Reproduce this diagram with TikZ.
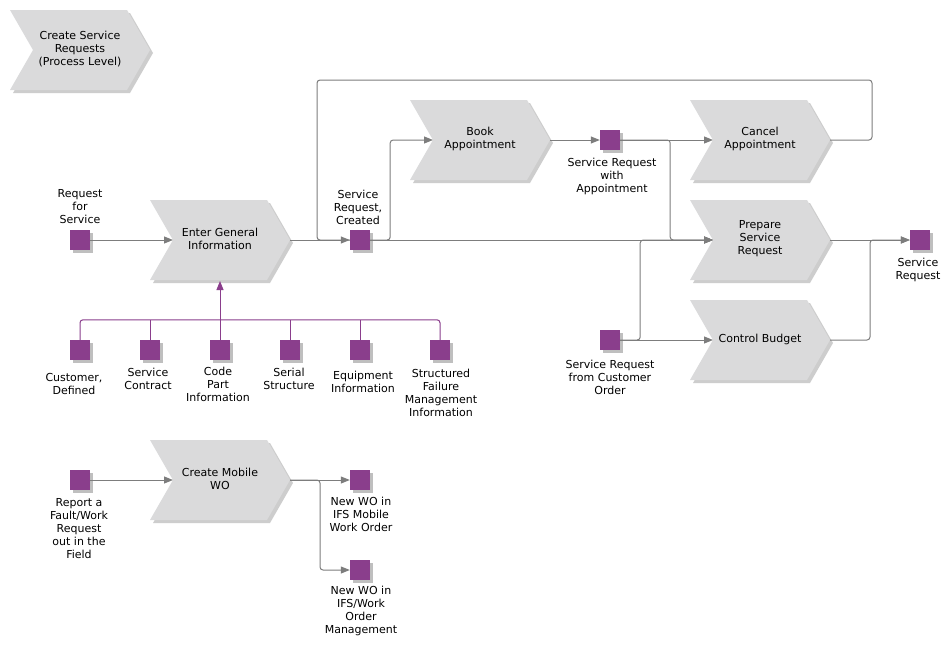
\documentclass[tikz,border=0pt]{standalone}
\usepackage{fontspec}
\setmainfont{DejaVu Sans}
\usetikzlibrary{arrows.meta,shadows}
\definecolor{chev}{RGB}{218,218,219}
\definecolor{evt}{RGB}{138,62,140}
\definecolor{ln}{RGB}{125,125,125}
\definecolor{shd}{RGB}{205,205,205}
\tikzset{
  x=1pt,y=-1pt,
  txt/.style={align=center,inner sep=0pt,font=\fontsize{11}{13}\selectfont},
  evbox/.style={fill=evt,minimum size=20pt,inner sep=0pt,
    drop shadow={shadow xshift=2.5pt,shadow yshift=-2.5pt,opacity=0.25,fill=black}},
  conn/.style={draw=ln,line width=1pt,rounded corners=3pt,-{Triangle[length=9pt,width=7pt]}},
  plain/.style={draw=ln,line width=1pt,rounded corners=3pt},
  pline/.style={draw=evt,line width=1pt,rounded corners=3pt},
  parrow/.style={draw=evt,line width=1pt,-{Triangle[length=9pt,width=7pt]}},
}
\newcommand\chevron[4]{%
  \fill[shd] ({#2-70+3},{#3-40+3}) -- ({#2+47+3},{#3-40+3}) -- ({#2+70+3},{#3+3}) -- ({#2+47+3},{#3+40+3}) -- ({#2-70+3},{#3+40+3}) -- ({#2-47+3},{#3+3}) -- cycle;
  \fill[chev] ({#2-70},{#3-40}) -- ({#2+47},{#3-40}) -- ({#2+70},{#3}) -- ({#2+47},{#3+40}) -- ({#2-70},{#3+40}) -- ({#2-47},{#3}) -- cycle;
  \node[txt] (#1) at ({#2},{#3-1}) {#4};
  \coordinate (#1-in) at ({#2-47},{#3});
  \coordinate (#1-out) at ({#2+70},{#3});
  \coordinate (#1-bot) at ({#2},{#3+41});
}
\begin{document}
\begin{tikzpicture}
\useasboundingbox[fill=white] (0,0) rectangle (951,648);

% processes
\chevron{plevel}{80}{50}{Create Service\\Requests\\(Process Level)}
\chevron{egi}{220}{240}{Enter General\\Information}
\chevron{book}{480}{140}{Book\\Appointment}
\chevron{cancel}{760}{140}{Cancel\\Appointment}
\chevron{prep}{760}{240}{Prepare\\Service\\Request}
\chevron{budget}{760}{340}{Control Budget}
\chevron{mob}{220}{480}{Create Mobile\\WO}

% events
\node[evbox] (rfs) at (80,240) {};
\node[evbox] (src) at (360,240) {};
\node[evbox] (sra) at (610,140) {};
\node[evbox] (sr) at (920,240) {};
\node[evbox] (srco) at (610,340) {};
\node[evbox] (c1) at (80,350) {};
\node[evbox] (c2) at (150,350) {};
\node[evbox] (c3) at (220,350) {};
\node[evbox] (c4) at (290,350) {};
\node[evbox] (c5) at (360,350) {};
\node[evbox] (c6) at (440,350) {};
\node[evbox] (rep) at (80,480) {};
\node[evbox] (wo1) at (360,480) {};
\node[evbox] (wo2) at (360,570) {};

% labels
\node[txt] (rfs-l) at (80,207) {Request\\for\\Service};
\node[txt] (src-l) at (358,207) {Service\\Request,\\Created};
\node[txt] (sra-l) at (612,176) {Service Request\\with\\Appointment};
\node[txt] (sr-l) at (918,270) {Service\\Request};
\node[txt] (srco-l) at (610,377) {Service Request\\from Customer\\Order};
\node[txt] (c1-l) at (74,383.5) {Customer,\\Defined};
\node[txt] (c2-l) at (148,378.5) {Service\\Contract};
\node[txt] (c3-l) at (218,384) {Code\\Part\\Information};
\node[txt] (c4-l) at (289,378.5) {Serial\\Structure};
\node[txt] (c5-l) at (363,381.5) {Equipment\\Information};
\node[txt] (c6-l) at (441,393) {Structured\\Failure\\Management\\Information};
\node[txt] (rep-l) at (79,529) {Report a\\Fault/Work\\Request\\out in the\\Field};
\node[txt] (wo1-l) at (361,514) {New WO in\\IFS Mobile\\Work Order};
\node[txt] (wo2-l) at (361,611) {New WO in\\IFS/Work\\Order\\Management};

% connectors
\draw[conn] (rfs.east) -- (egi-in);
\draw[conn] (egi-out) -- (src.west);
\coordinate (loopR) at (872,80);
\coordinate (loopL) at (317,80);
\draw[plain] (cancel-out) -| (loopR) -- (loopL) |- (src.west);
\draw[conn] (src.east) -- ++(20,0) |- (book-in);
\draw[conn] (src.east) -- (prep-in);
\draw[conn] (book-out) -- (sra.west);
\draw[conn] (sra.east) -- (cancel-in);
\draw[conn] (sra.east) -- ++(50,0) |- (prep-in);
\draw[conn] (srco.east) -- (budget-in);
\draw[conn] (srco.east) -- ++(20,0) |- (prep-in);
\draw[conn] (prep-out) -- (sr.west);
\draw[conn] (budget-out) -- ++(40,0) |- (sr.west);
\draw[conn] (rep.east) -- (mob-in);
\draw[conn] (mob-out) -- (wo1.west);
\draw[conn] (mob-out) -- ++(30,0) |- (wo2.west);

% purple bus
\draw[pline] (c1.north) -- ++(0,-20) -| (c6.north);
\draw[pline] (c2.north) -- ++(0,-20);
\draw[pline] (c4.north) -- ++(0,-20);
\draw[pline] (c5.north) -- ++(0,-20);
\draw[parrow] (c3.north) -- (egi-bot);
\end{tikzpicture}
\end{document}
